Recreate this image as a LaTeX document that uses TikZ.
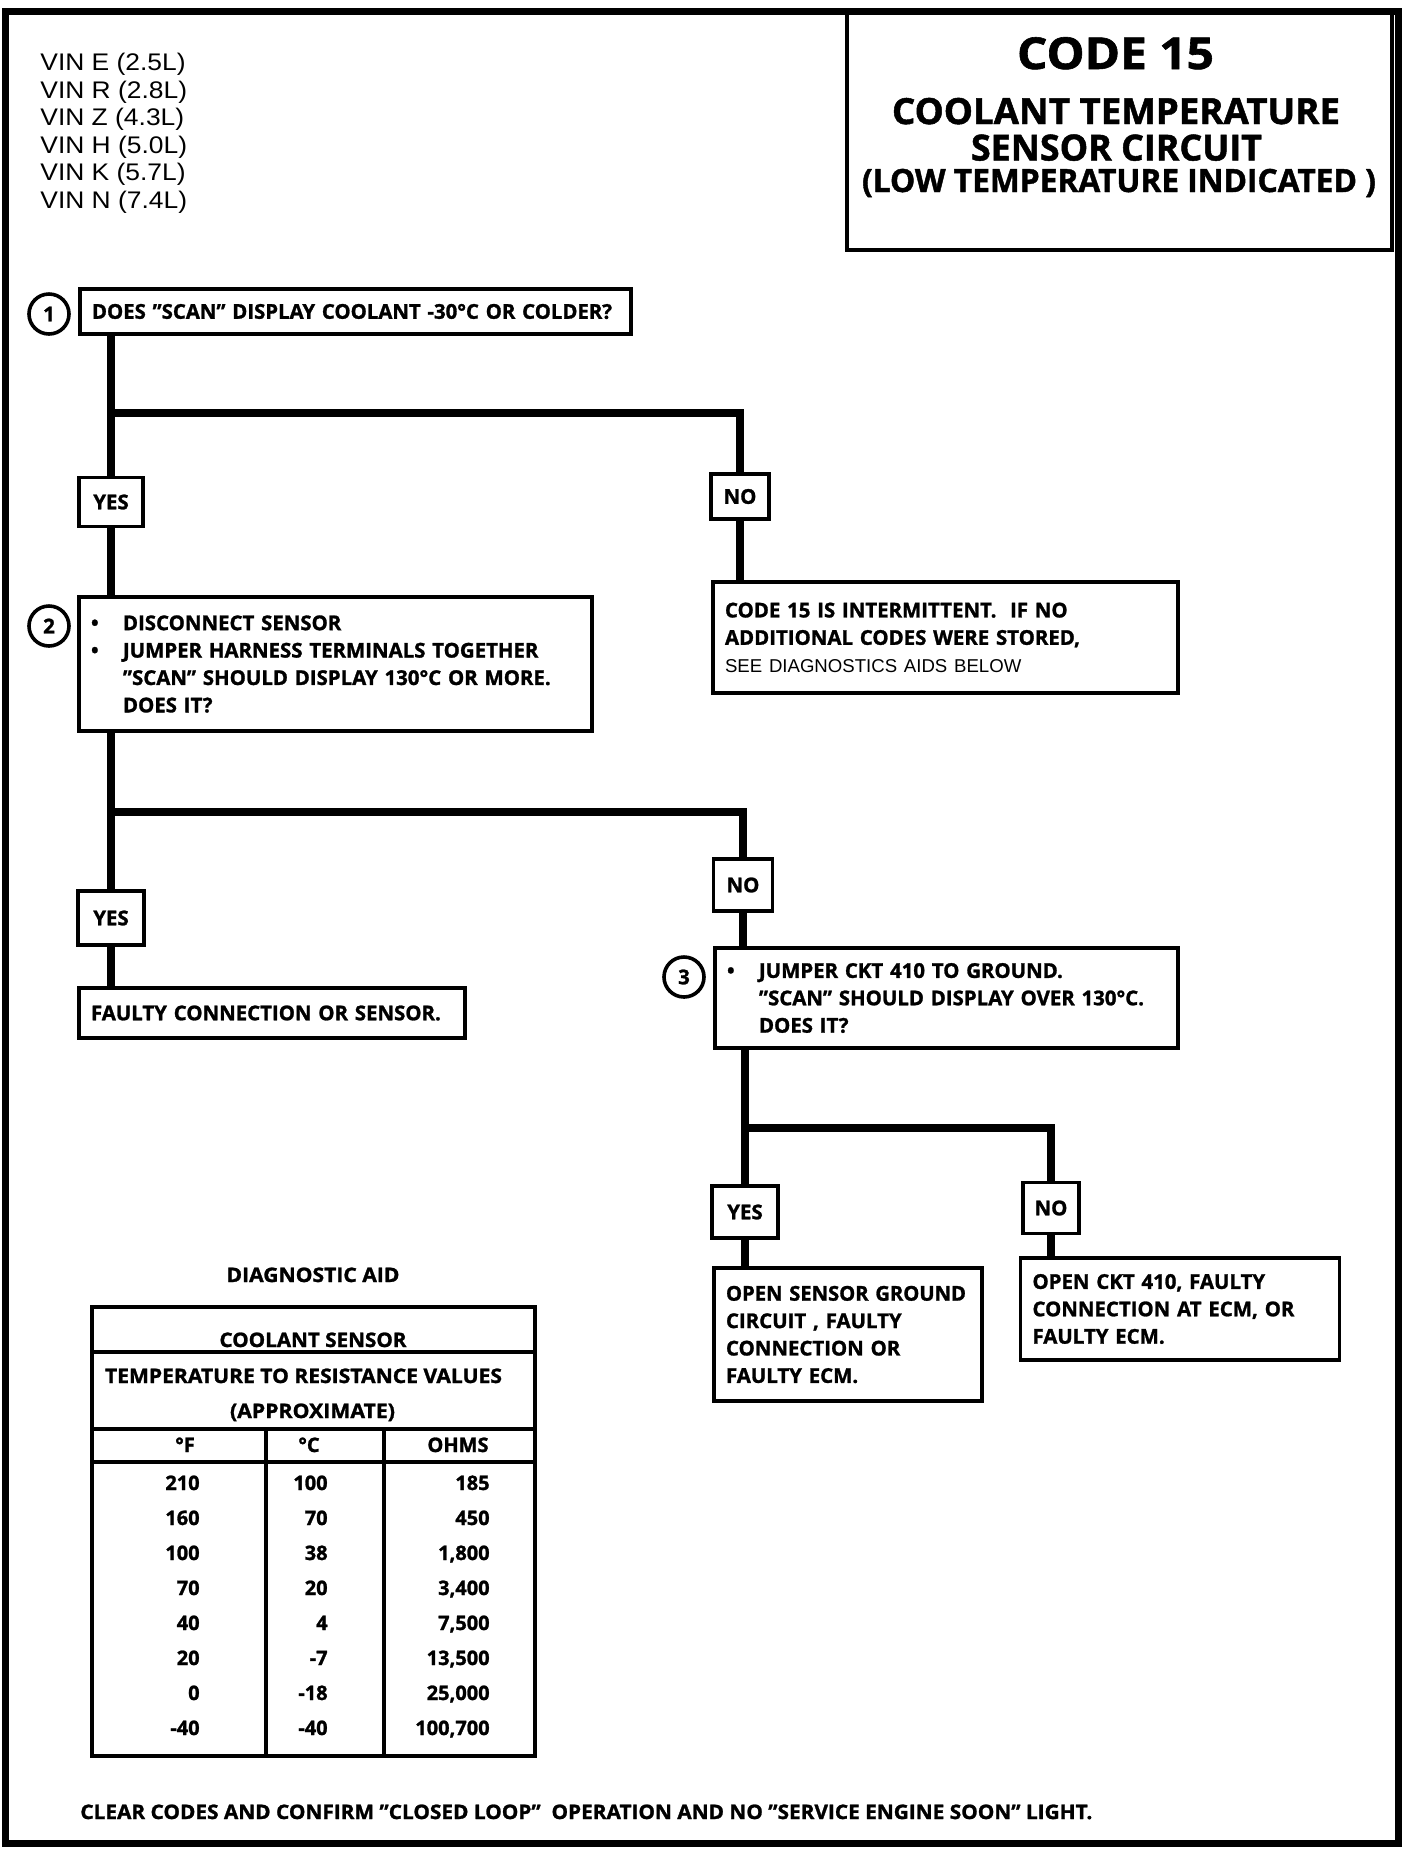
\documentclass[tikz,border=0pt]{standalone}
\usepackage{fontspec}
\usepackage{graphicx}
\setmainfont{Open Sans}[BoldFeatures={FakeBold=1.3}]
\newfontfamily\arialf{Liberation Sans}
\newcommand\fitto[2]{\resizebox{#1}{\height}{#2}}
\newcommand\sx[2]{\scalebox{#1}[1]{#2}}
\newcommand\bul{\makebox[16pt][l]{\textbullet}}
\newcommand\ind{\hspace*{16pt}}
\tikzset{
  frame/.style={line width=3.5pt},
  box/.style={draw, line width=1.8pt, inner xsep=6pt, inner ysep=0pt, align=left,
    font=\fontsize{10.2}{13.7}\selectfont\bfseries},
  lbl/.style={draw, line width=1.8pt, inner sep=0pt, font=\fontsize{10.2}{12}\selectfont\bfseries},
  conn/.style={line width=3.8pt},
  num/.style={draw, circle, line width=1.8pt, minimum size=20pt, inner sep=0pt,
    font=\fontsize{10.2}{12}\selectfont\bfseries},
  txt/.style={inner sep=0pt},
  vin/.style={inner sep=0pt, anchor=base west, font=\arialf\fontsize{12}{14}\selectfont},
  tbl/.style={inner sep=0pt, font=\fontsize{10}{12}\selectfont\bfseries},
  grid/.style={line width=1.8pt},
}
\begin{document}
\begin{tikzpicture}[x=0.5pt,y=-0.5pt]
\useasboundingbox (0,0) rectangle (1408,1876);
\fill[white] (0,0) rectangle (1408,1876);
\draw[frame] (5,11) rectangle (1398,1843);

% title block
\node[draw, line width=1.8pt, minimum width=272.5pt, minimum height=119.5pt, inner sep=0pt] (tbox) at (1119.5,130.5) {};
\node[txt, anchor=base, font=\fontsize{22}{24}\selectfont\bfseries] (t1) at (1115.5,69) {\fitto{98.5pt}{CODE 15}};
\node[txt, anchor=base, font=\fontsize{18}{20}\selectfont\bfseries] (t2) at (1116,124) {\fitto{224pt}{COOLANT TEMPERATURE}};
\node[txt, anchor=base, font=\fontsize{18}{20}\selectfont\bfseries] (t3) at (1116.5,160.5) {\fitto{145.5pt}{SENSOR CIRCUIT}};
\node[txt, anchor=base, font=\fontsize{16}{18}\selectfont\bfseries] (t4) at (1119,192) {\fitto{257pt}{(LOW TEMPERATURE INDICATED )}};

% VIN list
\node[vin] (v1) at (40,70.5) {\sx{1.1}{VIN E (2.5L)}};
\node[vin] (v2) at (40,98) {\sx{1.1}{VIN R (2.8L)}};
\node[vin] (v3) at (40,125.5) {\sx{1.1}{VIN Z (4.3L)}};
\node[vin] (v4) at (40,153) {\sx{1.1}{VIN H (5.0L)}};
\node[vin] (v5) at (40,180.5) {\sx{1.1}{VIN K (5.7L)}};
\node[vin] (v6) at (40,208) {\sx{1.1}{VIN N (7.4L)}};

% step 1
\node[num] (c1) at (49,314) {1};
\node[box, text width=263.5pt, minimum height=22.5pt] (q1) at (355.5,311.5)
  {\fitto{260pt}{DOES "SCAN" DISPLAY COOLANT -30°C OR COLDER?}};
\coordinate (b1) at (111,413);
\node[lbl, minimum width=32pt, minimum height=24.5pt] (yes1) at (111,502) {YES};
\node[lbl, minimum width=29pt, minimum height=22.5pt] (no1) at (740,496.5) {NO};
\node[box, text width=220.5pt, minimum height=55.5pt] (r1) at (945.5,637.5)
  {CODE 15 IS INTERMITTENT.\ \ IF NO\\ADDITIONAL CODES WERE STORED,\\
   {\arialf\mdseries\fontsize{9.3}{13.7}\selectfont SEE DIAGNOSTICS AIDS BELOW}};

% step 2
\node[num] (c2) at (49,626) {2};
\node[box, text width=244.5pt, minimum height=67pt] (q2) at (335.5,664)
  {\bul DISCONNECT SENSOR\\
   \bul JUMPER HARNESS TERMINALS TOGETHER\\
   \ind "SCAN" SHOULD DISPLAY 130°C OR MORE.\\
   \ind DOES IT?};
\coordinate (b2) at (111,812);
\node[lbl, minimum width=33pt, minimum height=27pt] (yes2) at (111,918) {YES};
\node[box, text width=181pt, minimum height=25pt] (r2) at (272,1013)
  {FAULTY CONNECTION OR SENSOR.};
\node[lbl, minimum width=29.5pt, minimum height=26pt] (no2) at (743,885) {NO};

% step 3
\node[num] (c3) at (684,977) {3};
\node[box, text width=219.5pt, minimum height=50pt] (q3) at (946.5,998)
  {\bul JUMPER CKT 410 TO GROUND.\\
   \ind "SCAN" SHOULD DISPLAY OVER 130°C.\\
   \ind DOES IT?};
\coordinate (b3) at (745,1128);
\node[lbl, minimum width=33pt, minimum height=26pt] (yes3) at (745,1212) {YES};
\node[lbl, minimum width=28pt, minimum height=25.5pt] (no3) at (1051,1208) {NO};
\node[box, text width=122pt, minimum height=66.5pt] (r3) at (848,1334.5)
  {\fitto{120pt}{OPEN SENSOR GROUND}\\CIRCUIT , FAULTY\\CONNECTION OR\\FAULTY ECM.};
\node[box, text width=147.5pt, minimum height=51pt] (r4) at (1180,1309)
  {OPEN CKT 410, FAULTY\\CONNECTION AT ECM, OR\\FAULTY ECM.};

% connectors
\draw[conn] (q1.south -| yes1.north) -- (yes1.north);
\draw[conn] (b1) -| (no1.north);
\draw[conn] (no1.south) -- (r1.north -| no1.south);
\draw[conn] (yes1.south) -- (q2.north -| yes1.south);
\draw[conn] (q2.south -| yes2.north) -- (yes2.north);
\draw[conn] (b2) -| (no2.north);
\draw[conn] (yes2.south) -- (r2.north -| yes2.south);
\draw[conn] (no2.south) -- (q3.north -| no2.south);
\draw[conn] (q3.south -| yes3.north) -- (yes3.north);
\draw[conn] (b3) -| (no3.north);
\draw[conn] (yes3.south) -- (r3.north -| yes3.south);
\draw[conn] (no3.south) -- (r4.north -| no3.south);

% diagnostic aid table
\node[tbl, anchor=base] (da) at (313,1282) {\fitto{86.5pt}{DIAGNOSTIC AID}};
\draw[grid] (92,1307) rectangle (535,1756);
\draw[grid] (92,1352) -- (535,1352);
\draw[grid] (92,1429) -- (535,1429);
\draw[grid] (92,1462) -- (535,1462);
\draw[grid] (266,1429) -- (266,1756);
\draw[grid] (384,1429) -- (384,1756);
\node[tbl, anchor=base] (th1) at (313,1347) {\fitto{93.5pt}{COOLANT SENSOR}};
\node[tbl, anchor=base] (th2) at (303.5,1383) {\fitto{198.5pt}{TEMPERATURE TO RESISTANCE VALUES}};
\node[tbl, anchor=base] (th3) at (312.5,1418) {\fitto{82.5pt}{(APPROXIMATE)}};
\node[tbl, anchor=base] (hF) at (185,1452) {°F};
\node[tbl, anchor=base] (hC) at (309,1452) {°C};
\node[tbl, anchor=base] (hO) at (458,1452) {OHMS};
\foreach \f/\c/\o [count=\i] in {210/100/185, 160/70/450, 100/38/{1,800}, 70/20/{3,400},
   40/4/{7,500}, 20/-7/{13,500}, 0/-18/{25,000}, -40/-40/{100,700}} {
  \pgfmathsetmacro\yy{1490+35*(\i-1)}
  \node[tbl, anchor=base east] (f\i) at (200,\yy) {\f};
  \node[tbl, anchor=base east] (cc\i) at (328,\yy) {\c};
  \node[tbl, anchor=base east] (o\i) at (490,\yy) {\o};
}

% footer
\node[txt, anchor=base west, font=\fontsize{10}{12}\selectfont\bfseries] (foot) at (80,1819)
  {\fitto{506pt}{CLEAR CODES AND CONFIRM "CLOSED LOOP"\ \ OPERATION AND NO "SERVICE ENGINE SOON" LIGHT.}};
\end{tikzpicture}
\end{document}
